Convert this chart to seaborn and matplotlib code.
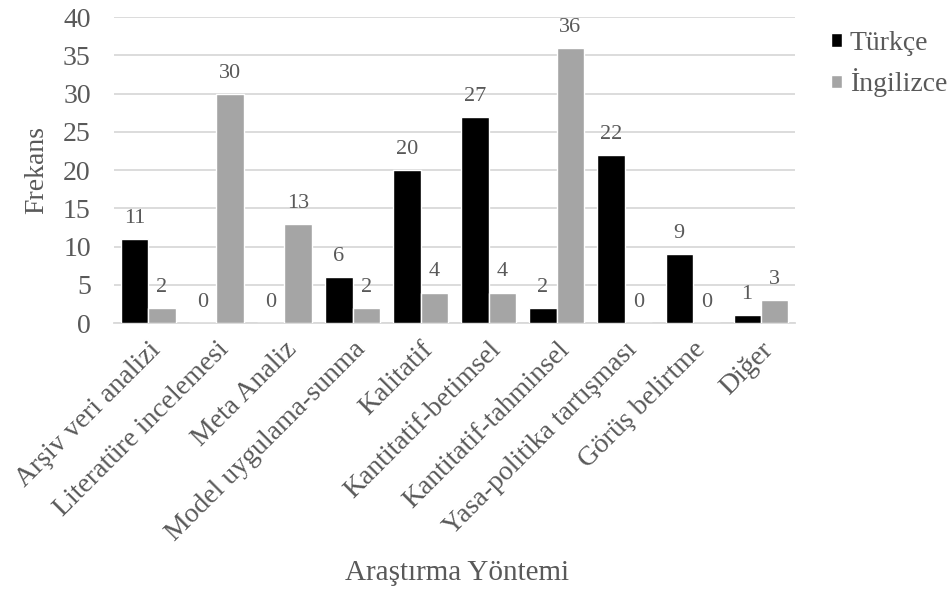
#!/usr/bin/env python3
"""Grouped bar chart of research methods by article language."""

import matplotlib.pyplot as plt
import pandas as pd
import seaborn as sns

CATEGORIES = [
    "Arşiv veri analizi",
    "Literatüre incelemesi",
    "Meta Analiz",
    "Model uygulama-sunma",
    "Kalitatif",
    "Kantitatif-betimsel",
    "Kantitatif-tahminsel",
    "Yasa-politika tartışması",
    "Görüş belirtme",
    "Diğer",
]
TURKCE = [11, 0, 0, 6, 20, 27, 2, 22, 9, 1]
INGILIZCE = [2, 30, 13, 2, 4, 4, 36, 0, 0, 3]
SERIES = ["Türkçe", "İngilizce"]
Y_TICKS = [0, 5, 10, 15, 20, 25, 30, 35, 40]

TEXT = "#595959"
GRID = "#D9D9D9"
COLORS = {"Türkçe": "#000000", "İngilizce": "#A5A5A5"}


def main() -> None:
    df = pd.DataFrame(
        {
            "Araştırma Yöntemi": CATEGORIES * 2,
            "Frekans": TURKCE + INGILIZCE,
            "Dil": [SERIES[0]] * len(CATEGORIES) + [SERIES[1]] * len(CATEGORIES),
        }
    )

    sns.set_style("white")
    plt.rcParams["font.family"] = ["Liberation Serif", "DejaVu Serif"]

    fig = plt.figure(figsize=(9.53, 5.94), dpi=100)
    ax = fig.add_axes([0.12, 0.456, 0.714, 0.515])
    sns.barplot(
        data=df,
        x="Araştırma Yöntemi",
        y="Frekans",
        hue="Dil",
        palette=COLORS,
        width=0.8,
        saturation=1,
        ax=ax,
        zorder=3,
    )

    for container in ax.containers:
        ax.bar_label(container, padding=8, fontsize=16, color=TEXT)

    ax.set_ylim(0, 40)
    ax.set_yticks(Y_TICKS)
    ax.yaxis.grid(True, color=GRID, linewidth=1.3, zorder=0)
    ax.set_axisbelow(True)
    for side in ("top", "right", "left"):
        ax.spines[side].set_visible(False)
    ax.spines["bottom"].set_color(GRID)
    ax.spines["bottom"].set_linewidth(1.3)
    ax.tick_params(axis="both", length=0, labelsize=20, colors=TEXT)
    ax.tick_params(axis="y", pad=17)
    ax.tick_params(axis="x", pad=10)
    plt.setp(ax.get_xticklabels(), rotation=45, ha="right", rotation_mode="anchor")

    ax.set_xlabel("Araştırma Yöntemi", fontsize=21, color=TEXT)
    ax.xaxis.set_label_coords(0.504, -0.775)
    ax.set_ylabel("Frekans", fontsize=20, color=TEXT, labelpad=10)

    ax.legend(
        loc="upper left",
        bbox_to_anchor=(0.872, 0.948),
        bbox_transform=fig.transFigure,
        frameon=False,
        fontsize=20,
        labelcolor=TEXT,
        handlelength=0.38,
        handleheight=0.38,
        handletextpad=0.3,
        labelspacing=0.45,
        borderpad=0,
        borderaxespad=0,
        title=None,
    )

    fig.savefig("out.png", dpi=100)


if __name__ == "__main__":
    main()
